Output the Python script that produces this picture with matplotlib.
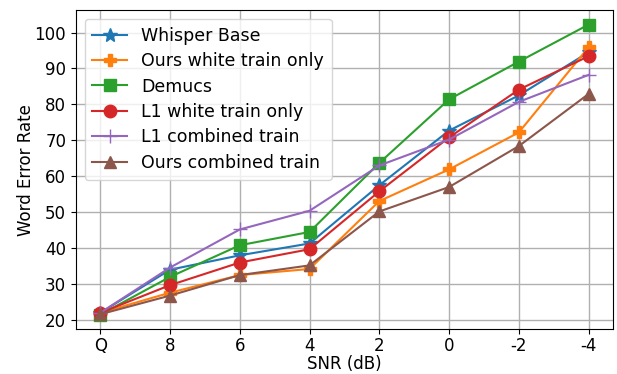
import matplotlib
matplotlib.use("Agg")
import matplotlib.pyplot as plt

snr_labels = ['Q', '8', '6', '4', '2', '0', '-2', '-4']

whisper_base = [22, 34, 38, 41.3, 57.5, 72.7, 82.5, 94.5]
ours_white = [22, 27.6, 32.5, 34.2, 53.1, 61.9, 72.2, 95.9]
demucs = [21.5, 32, 40.8, 44.5, 63.7, 81.4, 91.9, 102.2]
l1_white = [22, 29.7, 36, 39.7, 55.8, 70.8, 84.1, 93.4]
l1_combined = [22, 34.6, 45.2, 50.4, 63, 70.2, 80.7, 88.2]
ours_combined = [21.6, 26.8, 32.5, 35.2, 50.2, 57, 68.4, 82.9]

plt.rcParams['font.size'] = 12
fig, ax = plt.subplots(figsize=(6.17, 3.74), dpi=100)
x = list(range(len(snr_labels)))

ms = 9
ax.plot(x, whisper_base, '-*', color='tab:blue', markersize=ms + 1, label='Whisper Base')
ax.plot(x, ours_white, '-P', color='tab:orange', markersize=ms, label='Ours white train only')
ax.plot(x, demucs, '-s', color='tab:green', markersize=ms, label='Demucs')
ax.plot(x, l1_white, '-o', color='tab:red', markersize=ms, label='L1 white train only')
ax.plot(x, l1_combined, '-+', color='tab:purple', markersize=ms + 1, label='L1 combined train')
ax.plot(x, ours_combined, '-^', color='tab:brown', markersize=ms, label='Ours combined train')

ax.set_xticks(x)
ax.set_xticklabels(snr_labels)
ax.set_yticks(range(20, 101, 10))
ax.tick_params(axis='x', pad=2.5)
ax.set_xlabel('SNR (dB)', labelpad=0)
ax.set_ylabel('Word Error Rate', labelpad=-0.5)
ax.grid(True, linewidth=1, color='#b0b0b0')
ax.legend(loc='upper left', fontsize=12.5, handlelength=2.0, borderpad=0.45, labelspacing=0.43)

plt.subplots_adjust(left=0.123, right=0.9935, top=0.973, bottom=0.12)
plt.savefig('out.png', dpi=100)
